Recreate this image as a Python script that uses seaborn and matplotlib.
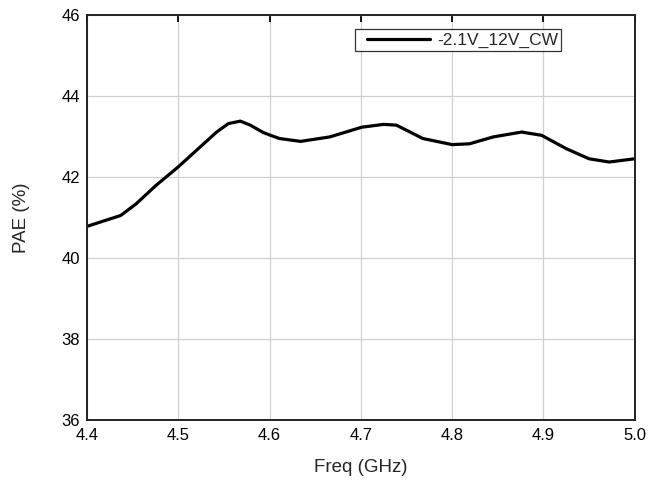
import pandas as pd
import numpy as np
import matplotlib.pyplot as plt
import seaborn as sns
from matplotlib.lines import Line2D
from matplotlib.legend_handler import HandlerLine2D

# PAE vs frequency
freq = [4.400, 4.415, 4.437, 4.454, 4.476, 4.500, 4.520, 4.542, 4.555, 4.568,
        4.579, 4.593, 4.601, 4.611, 4.634, 4.666, 4.701, 4.725, 4.739, 4.768,
        4.800, 4.819, 4.845, 4.876, 4.898, 4.925, 4.950, 4.972, 5.000]
pae = [40.78, 40.89, 41.05, 41.34, 41.80, 42.25, 42.66, 43.11, 43.32, 43.38,
       43.28, 43.10, 43.03, 42.95, 42.88, 42.99, 43.23, 43.30, 43.28, 42.95,
       42.80, 42.82, 42.99, 43.11, 43.03, 42.70, 42.45, 42.37, 42.45]
series_name = '-2.1V_12V_CW'

x_ticks = [4.4, 4.5, 4.6, 4.7, 4.8, 4.9, 5.0]
y_ticks = [36, 38, 40, 42, 44, 46]

sns.set_style('white')
plt.rcParams['font.family'] = ['Liberation Sans', 'DejaVu Sans']

df = pd.DataFrame({'Freq': freq, 'PAE': pae, 'series': series_name})

fig = plt.figure(figsize=(6.49, 4.86), dpi=100)
ax = fig.add_axes([0.134, 0.136, 0.844, 0.833])

sns.lineplot(data=df, x='Freq', y='PAE', hue='series', palette=['black'],
             linewidth=2.3, ax=ax)
ax.lines[0].set_solid_joinstyle('round')

ax.set_xlim(4.4, 5.0)
ax.set_ylim(36, 46)
ax.set_xticks(x_ticks)
ax.set_xticklabels([f'{t:.1f}' for t in x_ticks])
ax.set_yticks(y_ticks)
ax.grid(True, color='#d0d0d0', linewidth=0.9)
ax.set_axisbelow(True)

for side in ['left', 'bottom', 'right', 'top']:
    ax.spines[side].set_color('#222222')
    ax.spines[side].set_linewidth(1.4)

ax.tick_params(direction='in', length=5, width=1.3, labelsize=12,
               top=True, right=False, colors='black')
ax.tick_params(axis='x', pad=6)
ax.tick_params(axis='y', pad=5)
ax.set_xlabel('Freq (GHz)', fontsize=13.5)
ax.set_ylabel('PAE (%)', fontsize=13.5)
ax.xaxis.set_label_coords(0.5, -0.118)
ax.yaxis.set_label_coords(-0.12, 0.5)
ax.xaxis.label.set_va('center')
ax.yaxis.label.set_va('center')

# legend: line starts a little in from the left edge of the box
leg = ax.legend(loc='upper right', bbox_to_anchor=(0.866, 0.965), frameon=True,
                fancybox=False, fontsize=12.5, handlelength=4.1,
                borderpad=0.2, borderaxespad=0, handletextpad=0.4,
                handler_map={Line2D: HandlerLine2D(xpad=0.5)})
leg.get_frame().set_edgecolor('black')
leg.get_frame().set_linewidth(0.9)
leg.set_title(None)

plt.savefig('out.png', dpi=100)
